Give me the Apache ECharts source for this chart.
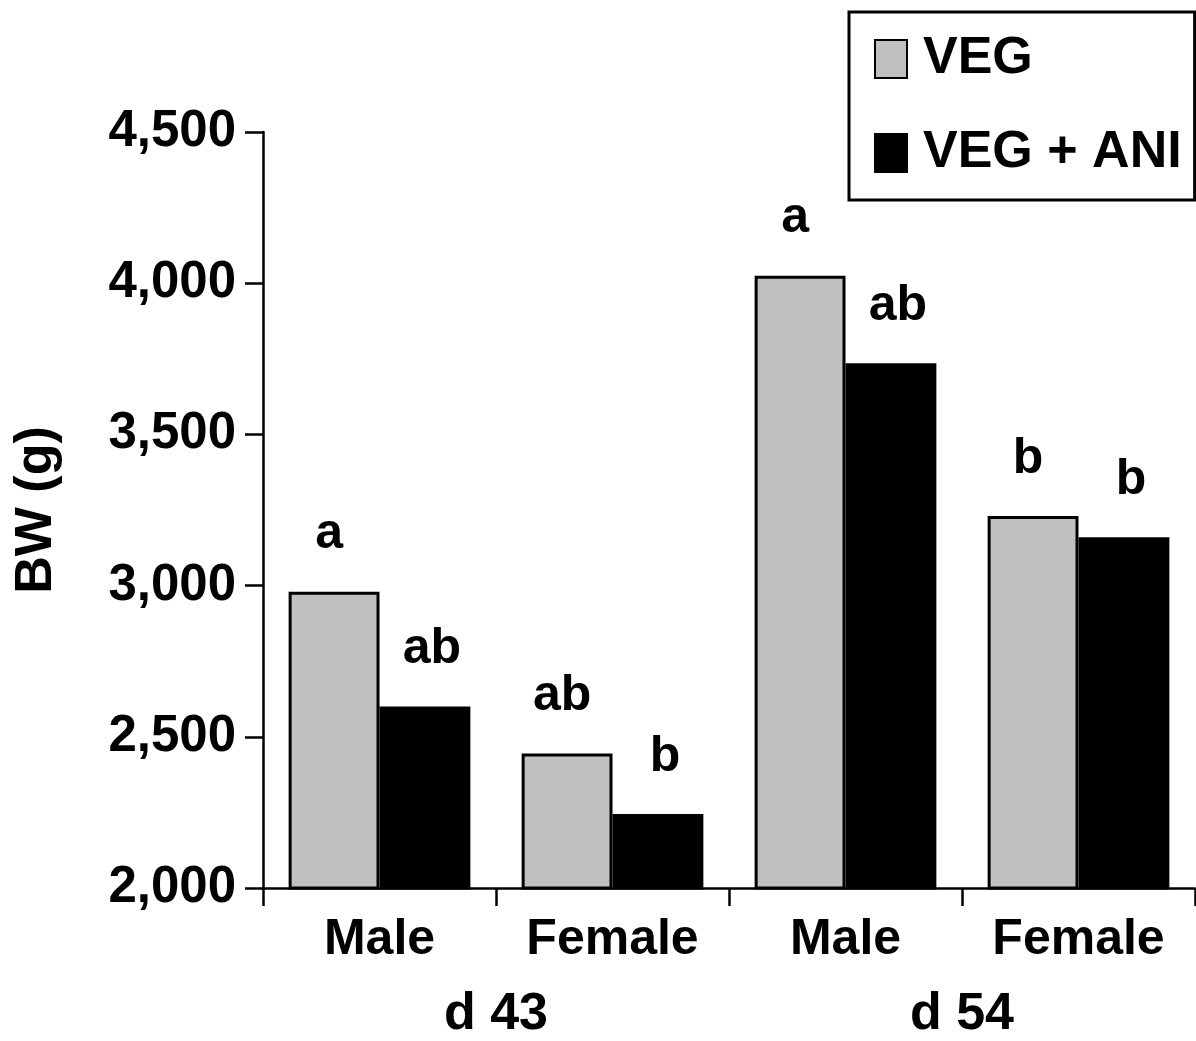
<!DOCTYPE html>
<html>
<head>
<meta charset="utf-8">
<script src="https://cdn.jsdelivr.net/npm/echarts@6/dist/echarts.min.js"></script>
<style>
html,body{margin:0;padding:0;background:#fff;}
#chart{width:1196px;height:1041px;}
</style>
</head>
<body>
<div id="chart"></div>
<script>
const categories = ['Male', 'Female', 'Male', 'Female'];
const groups = ['d 43', 'd 54'];
const seriesNames = ['VEG', 'VEG + ANI'];
const vegValues = [2980, 2445, 4025, 3230];
const aniValues = [2600, 2245, 3735, 3160];
const vegLetters = ['a', 'ab', 'a', 'b'];
const aniLetters = ['ab', 'b', 'ab', 'b'];
const yTicks = [2000, 2500, 3000, 3500, 4000, 4500];

const FONT = '"Liberation Sans", Arial, Helvetica, sans-serif';
const chart = echarts.init(document.getElementById('chart'));

function fmt(v) {
  return String(v).replace(/\B(?=(\d{3})+(?!\d))/g, ',');
}

chart.setOption({
  animation: false,
  backgroundColor: '#fff',
  textStyle: { fontFamily: FONT },
  grid: { left: 263, right: 1, top: 132, bottom: 147, containLabel: false },
  legend: {
    orient: 'vertical',
    left: 849, top: 12,
    data: seriesNames,
    icon: 'rect',
    itemWidth: 32, itemHeight: 38,
    itemGap: 42,
    padding: [21, 13, 21, 25],
    borderColor: '#000', borderWidth: 3,
    textStyle: { fontFamily: FONT, fontSize: 52, fontWeight: 'bold', color: '#000', padding: [0, 0, 0, 11] }
  },
  xAxis: [
    {
      type: 'category',
      data: categories,
      position: 'bottom',
      axisLine: { lineStyle: { color: '#000', width: 2.5 } },
      axisTick: { show: true, length: 18, lineStyle: { color: '#000', width: 2.5 } },
      axisLabel: { margin: 27, fontFamily: FONT, fontSize: 50, fontWeight: 'bold', color: '#000' }
    },
    {
      type: 'category',
      data: groups,
      position: 'bottom',
      axisLine: { show: false },
      axisTick: { show: false },
      axisLabel: { margin: 101, fontFamily: FONT, fontSize: 52, fontWeight: 'bold', color: '#000' }
    }
  ],
  yAxis: {
    type: 'value',
    min: yTicks[0], max: yTicks[yTicks.length - 1], interval: 500,
    name: 'BW (g)',
    nameLocation: 'middle',
    nameGap: 200,
    nameTextStyle: { fontFamily: FONT, fontSize: 52, fontWeight: 'bold', color: '#000' },
    axisLine: { show: true, lineStyle: { color: '#000', width: 2.5 } },
    axisTick: { show: true, length: 18, lineStyle: { color: '#000', width: 2.5 } },
    splitLine: { show: false },
    axisLabel: { margin: 27, fontFamily: FONT, fontSize: 51, fontWeight: 'bold', color: '#000', formatter: fmt }
  },
  series: [
    {
      name: seriesNames[0],
      type: 'bar',
      xAxisIndex: 0,
      data: vegValues,
      barGap: '0%',
      barCategoryGap: '22%',
      itemStyle: { color: '#c0c0c0', borderColor: '#000', borderWidth: 3 },
      label: {
        show: true, position: 'top', distance: 32, offset: [-5, 0],
        fontFamily: FONT, fontSize: 50, fontWeight: 'bold', color: '#000',
        formatter: p => vegLetters[p.dataIndex]
      }
    },
    {
      name: seriesNames[1],
      type: 'bar',
      xAxisIndex: 0,
      data: aniValues,
      barGap: '0%',
      barCategoryGap: '22%',
      itemStyle: { color: '#000', borderColor: '#000', borderWidth: 3 },
      label: {
        show: true, position: 'top', distance: 32, offset: [7, 0],
        fontFamily: FONT, fontSize: 50, fontWeight: 'bold', color: '#000',
        formatter: p => aniLetters[p.dataIndex]
      }
    }
  ]
});
</script>
</body>
</html>
